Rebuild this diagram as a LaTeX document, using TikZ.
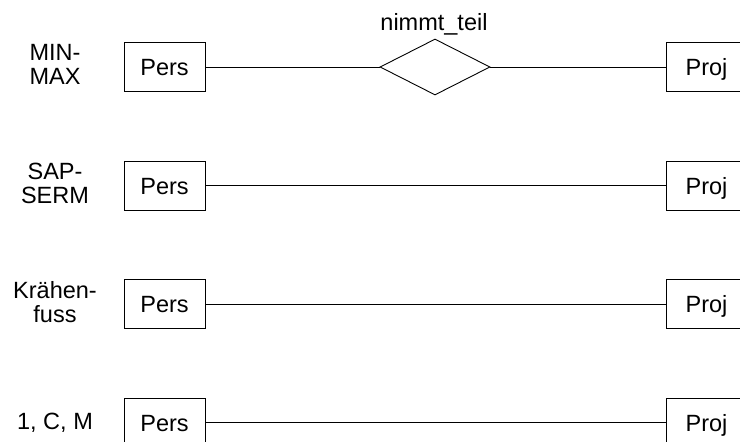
\documentclass[tikz,border=0pt]{standalone}
\usepackage{fontspec}
\setmainfont{Liberation Sans}
\usetikzlibrary{shapes.geometric}
\begin{document}
\begin{tikzpicture}[x=1pt,y=-1pt,
  txt/.style={font=\fontsize{23.5}{23.5}\selectfont},
  lbl/.style={txt, align=center, inner sep=0pt},
  ent/.style={txt, draw, line width=1pt, minimum width=81pt, minimum height=49pt, inner sep=0pt, text height=17pt, text depth=0pt},
  rel/.style={draw, diamond, line width=0.9pt, minimum width=110pt, minimum height=56pt, inner sep=0pt, aspect=1.96},
  conn/.style={line width=0.9pt}]
\useasboundingbox (0,0) rectangle (740,442);
\clip (0,0) rectangle (740,442);
% row 1
\node[lbl] (l1) at (55,64.5) {MIN-\\MAX};
\node[ent] (p1) at (164.5,67) {Pers};
\node[ent] (q1) at (706.5,67) {Proj};
\node[rel] (r1) at (435,67) {};
\node[txt, inner sep=0pt, anchor=base] (r1l) at (434,30) {nimmt\_teil};
\draw[conn] (p1.east) -- (r1.west);
\draw[conn] (r1.east) -- (q1.west);
% row 2
\node[lbl] (l2) at (55,183.5) {SAP-\\SERM};
\node[ent] (p2) at (164.5,185.5) {Pers};
\node[ent] (q2) at (706.5,185.5) {Proj};
\draw[conn] (p2.east) -- (q2.west);
% row 3
\node[lbl] (l3) at (55,302) {Krähen-\\fuss};
\node[ent] (p3) at (164.5,304) {Pers};
\node[ent] (q3) at (706.5,304) {Proj};
\draw[conn] (p3.east) -- (q3.west);
% row 4
\node[lbl] (l4) at (55,422.5) {1, C, M};
\node[ent] (p4) at (164.5,422.5) {Pers};
\node[ent] (q4) at (706.5,422.5) {Proj};
\draw[conn] (p4.east) -- (q4.west);
\end{tikzpicture}
\end{document}
